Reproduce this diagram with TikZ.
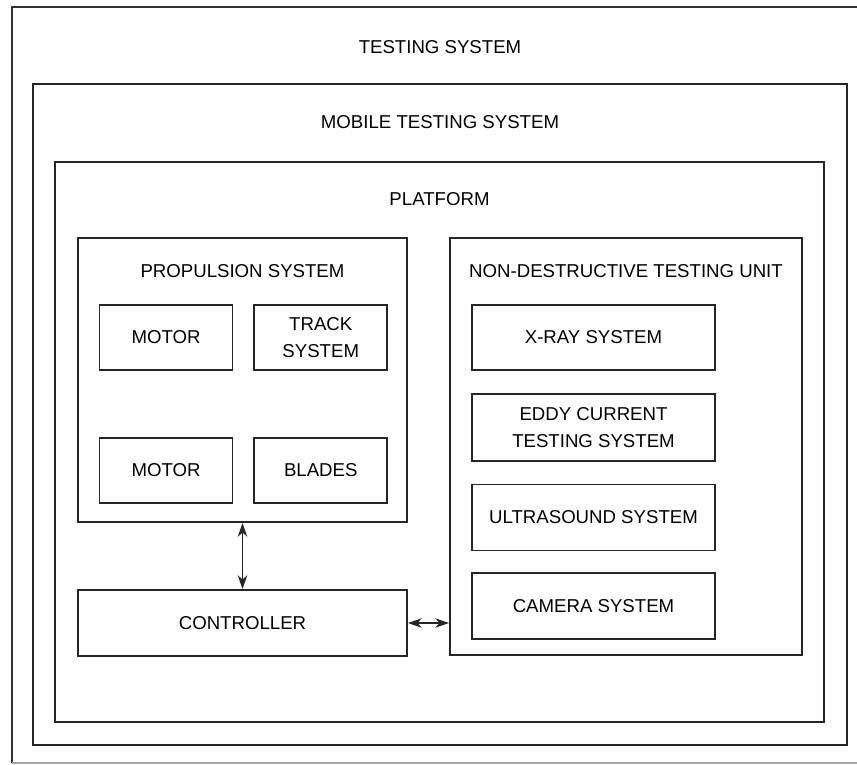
\documentclass[tikz,border=0pt]{standalone}
\usepackage{fontspec}
\setmainfont{Liberation Sans}
\usepackage{tikz}
\usetikzlibrary{arrows.meta,positioning}

\begin{document}
\begin{tikzpicture}[
  >={Stealth[length=2.8mm,width=1.9mm]},
  every node/.style={font=\fontsize{10.6}{15.5}\selectfont},
  frame/.style={draw=black!85, line width=1pt, inner sep=0pt},
  unit/.style={draw=black!85, line width=1pt, align=center,
    minimum height=1.3cm, inner sep=1pt},
  title/.style={inner sep=0pt},
  link/.style={<->, line width=0.9pt, black!85},
]
\useasboundingbox (0,0) rectangle (17.14,-15.3);
% outer system, cut off at the right edge
\draw[black!80, line width=0.9pt] (17.14,-0.14) -- (0.24,-0.14) -- (0.24,-15.26);
\draw[black!35, line width=0.8pt] (0.24,-15.26) -- (17.14,-15.26);
\node[title] (testT) at (8.80,-0.94) {TESTING SYSTEM};
\node[frame, minimum width=16.28cm, minimum height=13.22cm] (mobile) at (8.80,-8.29) {};
\node[title] (mobileT) at ([yshift=-0.78cm]mobile.north) {MOBILE TESTING SYSTEM};
\node[frame, minimum width=15.38cm, minimum height=11.20cm] (platform) at (8.79,-8.84) {};
\node[title] (platformT) at ([yshift=-0.76cm]platform.north) {PLATFORM};
% propulsion
\node[frame, minimum width=6.58cm, minimum height=5.68cm] (prop) at (4.85,-7.60) {};
\node[title] (propT) at ([yshift=-0.68cm]prop.north) {PROPULSION SYSTEM};
\node[unit, minimum width=2.66cm] (motorA) at (3.32,-6.75) {MOTOR};
\node[unit, minimum width=2.66cm, right=0.40cm of motorA] (track) {TRACK\\SYSTEM};
\node[unit, minimum width=2.66cm, below=1.32cm of motorA] (motorB) {MOTOR};
\node[unit, minimum width=2.66cm, below=1.32cm of track] (blades) {BLADES};
\node[unit, minimum width=6.58cm, minimum height=1.32cm] (ctrl) at (4.85,-12.46) {CONTROLLER};
% non-destructive testing
\node[frame, minimum width=7.04cm, minimum height=8.34cm] (ndt) at (12.52,-8.93) {};
\node[title] (ndtT) at ([yshift=-0.68cm]ndt.north) {NON-DESTRUCTIVE TESTING UNIT};
\node[unit, minimum width=4.86cm] (xray) at (11.87,-6.75) {X-RAY SYSTEM};
\node[unit, minimum width=4.86cm, minimum height=1.34cm, below=0.44cm of xray] (eddy) {EDDY CURRENT\\TESTING SYSTEM};
\node[unit, minimum width=4.86cm, minimum height=1.32cm, below=0.44cm of eddy] (ultra) {ULTRASOUND SYSTEM};
\node[unit, minimum width=4.86cm, minimum height=1.32cm, below=0.42cm of ultra] (camera) {CAMERA SYSTEM};
\draw[link] (prop.south) -- (ctrl.north);
\draw[link] (ctrl.east) -- (ctrl.east -| ndt.west);
\end{tikzpicture}
\end{document}
